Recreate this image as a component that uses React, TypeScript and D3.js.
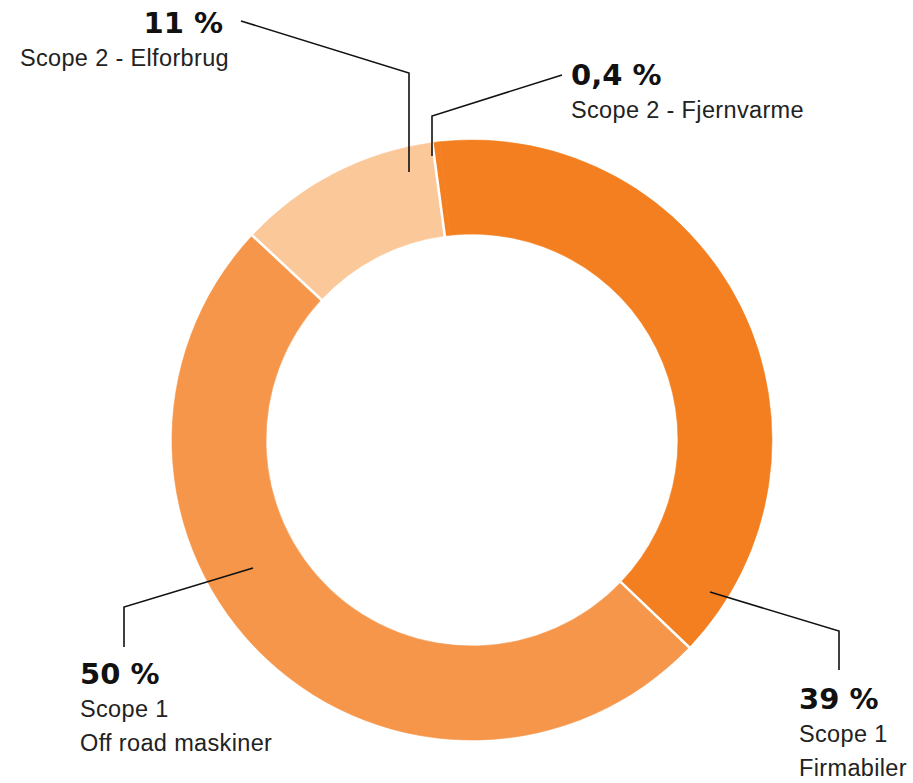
import React from "react";
import * as d3 from "d3";

const categories = ["Scope 2 - Fjernvarme", "Scope 1 Firmabiler", "Scope 1 Off road maskiner", "Scope 2 - Elforbrug"];
const values = [0.4, 39, 50, 11];
const pctLabels = ["0,4 %", "39 %", "50 %", "11 %"];
const subLabels = [["Scope 2 - Fjernvarme"], ["Scope 1", "Firmabiler"], ["Scope 1", "Off road maskiner"], ["Scope 2 - Elforbrug"]];
const colors = ["#F47F20", "#F47F20", "#F5964A", "#FBC89A"];

const W = 913, H = 783;
const cx = 472, cy = 440, R = 300, r0 = 206;

type Lab = { pts: [number, number][]; tx: number; ty: number; anchor: string };
const labels: Lab[] = [
  { pts: [[432, 156], [432, 116], [562, 75]], tx: 571, ty: 85, anchor: "start" },
  { pts: [[710, 592], [839, 631], [839, 670]], tx: 799, ty: 709, anchor: "start" },
  { pts: [[253, 568], [124, 607], [124, 647]], tx: 80, ty: 684, anchor: "start" },
  { pts: [[409, 172], [409, 73], [241, 21]], tx: 223, ty: 33, anchor: "end" },
];

export default function App() {
  const startDeg = -7.6;
  const pie = d3.pie<number>().sort(null).value((d) => d)
    .startAngle((startDeg * Math.PI) / 180)
    .endAngle((startDeg * Math.PI) / 180 + 2 * Math.PI);
  const arcs = pie(values);
  const arcGen = d3.arc<d3.PieArcDatum<number>>().innerRadius(r0).outerRadius(R);
  const line = d3.line();

  const seps = arcs
    .map((a, i) => {
      const prev = (i - 1 + arcs.length) % arcs.length;
      if (colors[prev] === colors[i]) return null;
      const ang = a.startAngle;
      const s = Math.sin(ang), c = -Math.cos(ang);
      return [[cx + s * (r0 - 2), cy + c * (r0 - 2)], [cx + s * (R + 2), cy + c * (R + 2)]] as [number, number][];
    })
    .filter(Boolean) as [number, number][][];

  return (
    <svg width={W} height={H} style={{ position: "absolute", left: 0, top: 0, background: "#fff" }}>
      <g transform={`translate(${cx},${cy})`}>
        {arcs.map((a, i) => (
          <path key={i} d={arcGen(a) || ""} fill={colors[i]} stroke={colors[i]} strokeWidth={0.6} />
        ))}
      </g>
      {seps.map((p, i) => (
        <path key={"s" + i} d={line(p) || ""} stroke="#fff" strokeWidth={2.6} fill="none" />
      ))}
      {labels.map((l, i) => (
        <g key={"l" + i}>
          <path d={line(l.pts) || ""} stroke="#111" strokeWidth={1.6} fill="none" />
          <text x={l.tx} y={l.ty} textAnchor={l.anchor} fontFamily="DejaVu Sans" fontWeight="bold" fontSize={29} fill="#111">
            {pctLabels[i]}
          </text>
          {subLabels[i].map((s, j) => (
            <text key={j} x={l.anchor === "end" ? l.tx + 6 : l.tx} y={l.ty + 33 + j * 34} textAnchor={l.anchor}
              fontFamily="Liberation Sans, Arial, sans-serif" fontSize={23.5} letterSpacing={0.35} fill="#222">
              {s}
            </text>
          ))}
        </g>
      ))}
    </svg>
  );
}
